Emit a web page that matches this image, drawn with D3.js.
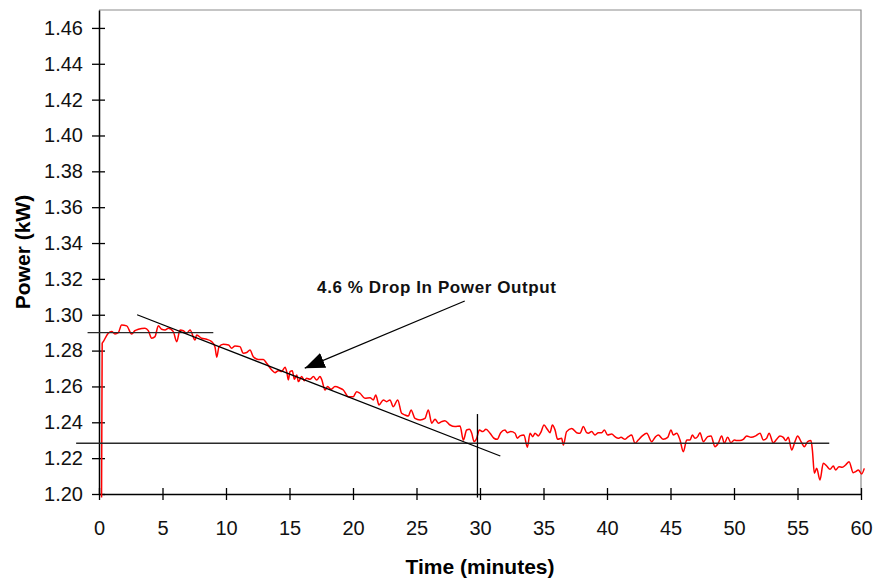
<!DOCTYPE html>
<html lang="en">
<head>
    <meta charset="UTF-8">
    <title>Power vs Time</title>
    <script src="https://d3js.org/d3.v7.min.js"></script>
    <style>
        body { margin: 0; background: #fff; }
        text { font-family: "Liberation Sans", Arial, sans-serif; }
    </style>
</head>
<body>
<script>
    // measured power trace (minutes, kW)
    var timeMin = [0.2, 0.25, 0.34, 0.73, 1.0, 1.26, 1.52, 1.78, 2.18, 2.57, 2.83, 3.1, 3.62, 3.88, 4.15, 4.41,
        4.67, 4.93, 5.2, 5.46, 5.85, 6.12, 6.38, 6.64, 6.9, 7.17, 7.56, 7.69, 8.08, 8.48, 8.87, 9.13, 9.27,
        9.45, 9.79, 10.2, 10.45, 10.71, 11.1, 11.36, 11.63, 11.89, 12.15, 12.54, 12.94,
        13.2, 13.6, 13.86, 14.12, 14.38, 14.65, 14.78, 14.91, 15.04, 15.22, 15.38, 15.57, 15.7, 15.96, 16.17,
        16.35, 16.61, 16.88, 17.14, 17.4, 17.53, 17.8, 18.0, 18.27, 18.58, 18.98, 19.24, 19.63, 20.02, 20.29,
        20.55, 20.94, 21.34, 21.6, 21.79, 22.05, 22.39, 22.65, 22.91, 23.17, 23.52, 23.83, 24.09, 24.36, 24.57,
        24.88, 25.28, 25.67, 25.93, 26.2, 26.46, 26.72, 26.98, 27.24, 27.64, 28.03, 28.43, 28.69, 28.95, 29.16,
        29.35, 29.53, 29.74, 29.95, 30.21, 30.47, 30.79, 31.1, 31.36, 31.63, 31.97, 32.15, 32.42, 32.76, 32.94,
        33.15, 33.46, 33.73, 33.94, 34.15, 34.33, 34.59, 34.78, 35.04, 35.3, 35.51, 35.7, 35.91, 36.11, 36.43,
        36.56, 36.82, 37.22, 37.61, 37.87, 38.14, 38.4, 38.53, 38.79, 39.06, 39.32, 39.58, 39.79, 40.05, 40.37,
        40.63, 40.89, 41.1, 41.42, 41.68, 41.94, 42.2, 42.46, 42.78, 43.13, 43.52, 43.83, 44.04, 44.43, 44.78,
        45.04, 45.22, 45.49, 45.75, 46.01, 46.28, 46.54, 46.72, 46.93, 47.14, 47.32, 47.58, 47.93, 48.19, 48.5,
        48.76, 49.03, 49.24, 49.5, 49.76, 50.02, 50.2, 50.47, 50.73, 51.0, 51.34, 51.71, 52.05, 52.31, 52.57,
        52.76, 53.09, 53.36, 53.62, 53.88, 54.07, 54.28, 54.54, 54.8, 55.01, 55.28, 55.54, 55.8, 56.06, 56.17,
        56.33, 56.51, 56.77, 57.03, 57.3, 57.56, 57.82, 58.0, 58.27, 58.53, 58.79, 59.06, 59.39, 59.58, 59.79,
        60.05, 60.26];

    var powerKW = [1.198, 1.284, 1.2850, 1.2897, 1.2906, 1.2893, 1.2900, 1.2943, 1.2938, 1.2893, 1.2911, 1.2919,
        1.2925, 1.2911, 1.2869, 1.2878, 1.2938, 1.2919, 1.2915, 1.2925, 1.2906, 1.2850, 1.2915, 1.2911, 1.2897,
        1.2915, 1.2859, 1.2887, 1.2869, 1.2863, 1.2850, 1.2822, 1.2763, 1.2822, 1.2835, 1.2831, 1.2813, 1.2826,
        1.2822, 1.2785, 1.2789, 1.2804, 1.2766, 1.2751, 1.2751,
        1.2729, 1.2692, 1.2677, 1.2688, 1.2683, 1.2707, 1.2683, 1.2636, 1.2683, 1.2688, 1.2640, 1.2664, 1.2627,
        1.2655, 1.2632, 1.2646, 1.2640, 1.2655, 1.2636, 1.2655, 1.2640, 1.2580, 1.2599, 1.2584, 1.2599, 1.2590,
        1.2580, 1.2543, 1.2543, 1.2571, 1.2562, 1.2534, 1.2537, 1.2525, 1.2552, 1.2497, 1.2525, 1.2515, 1.2525,
        1.2487, 1.2525, 1.2450, 1.2441, 1.2435, 1.2469, 1.2422, 1.2413, 1.2422, 1.2469, 1.2395, 1.2417, 1.2395,
        1.2404, 1.2409, 1.2385, 1.2376, 1.2379, 1.2301, 1.2357, 1.2361, 1.2339, 1.2292, 1.2311, 1.2357, 1.2348,
        1.2361, 1.2339, 1.2311, 1.2305, 1.2342, 1.2357, 1.2342, 1.2348, 1.2339, 1.2311, 1.2324, 1.2329, 1.2261,
        1.2339, 1.2320, 1.2339, 1.2324, 1.2342, 1.2385, 1.2361, 1.2342, 1.2385, 1.2357, 1.2305, 1.2311, 1.2273,
        1.2348, 1.2366, 1.2342, 1.2339, 1.2376, 1.2342, 1.2339, 1.2348, 1.2329, 1.2342, 1.2342, 1.2357, 1.2329,
        1.2335, 1.2320, 1.2311, 1.2316, 1.2305, 1.2320, 1.2329, 1.2283, 1.2301, 1.2324, 1.2339, 1.2292, 1.2320,
        1.2329, 1.2305, 1.2316, 1.2357, 1.2329, 1.2339, 1.2301, 1.2236, 1.2301, 1.2301, 1.2329, 1.2311, 1.2320,
        1.2342, 1.2292, 1.2320, 1.2324, 1.2264, 1.2283, 1.2324, 1.2283, 1.2316, 1.2286, 1.2301, 1.2298, 1.2298,
        1.2305, 1.2324, 1.2316, 1.2324, 1.2339, 1.2301, 1.2311, 1.2339, 1.2286, 1.2305, 1.2324, 1.2316, 1.2298,
        1.2316, 1.2246, 1.2292, 1.2324, 1.2292, 1.2264, 1.2292, 1.2298, 1.2246, 1.2116, 1.2143, 1.2078, 1.2171,
        1.2156, 1.2138, 1.2156, 1.2134, 1.2152, 1.2149, 1.2162, 1.2180, 1.2119, 1.2125, 1.2134, 1.2112, 1.2143];

    var xTicks = [0, 5, 10, 15, 20, 25, 30, 35, 40, 45, 50, 55, 60];
    var yTicks = [1.20, 1.22, 1.24, 1.26, 1.28, 1.30, 1.32, 1.34, 1.36, 1.38, 1.40, 1.42, 1.44, 1.46];

    // annotation lines drawn over the trace (minutes, kW)
    var startLevel = [[-0.9, 1.29], [9.0, 1.29]];
    var endLevel = [[-1.8, 1.2283], [57.5, 1.2283]];
    var trendLine = [[3.0, 1.300], [31.6, 1.2212]];
    var markerLine = [[29.8, 1.2446], [29.8, 1.198]];
    var arrowFrom = [28.8, 1.3077];
    var arrowTo = [16.2, 1.2702];
    var noteText = "4.6 % Drop In Power Output";
    var notePos = [26.6, 1.3122];

    var w = 885;
    var h = 579;
    var margin = { top: 10, right: 24, bottom: 85, left: 99 };

    var svg = d3.select("body")
                .append("svg")
                .attr("width", w)
                .attr("height", h);

    var xScale = d3.scaleLinear()
                   .domain([0, 60])
                   .range([margin.left, w - margin.right]);

    var yScale = d3.scaleLinear()
                   .domain([1.20, 1.47])
                   .range([h - margin.bottom, margin.top]);

    // top and right frame
    svg.append("path")
       .attr("d", "M" + xScale(0) + "," + yScale(1.47) + "H" + xScale(60) + "V" + yScale(1.20))
       .attr("fill", "none")
       .attr("stroke", "#8c8c8c")
       .attr("stroke-width", 1.2);

    // axes with ticks crossing the line
    var yAxis = d3.axisLeft(yScale)
                  .tickValues(yTicks)
                  .tickFormat(d3.format(".2f"))
                  .tickSizeInner(7)
                  .tickSizeOuter(0)
                  .tickPadding(9);

    var gy = svg.append("g")
                .attr("transform", "translate(" + xScale(0) + ",0)")
                .call(yAxis);

    gy.selectAll(".tick line").attr("x2", 6).attr("x1", -7).attr("stroke-width", 1.3);

    var xAxis = d3.axisBottom(xScale)
                  .tickValues(xTicks)
                  .tickSizeInner(6)
                  .tickSizeOuter(0)
                  .tickPadding(21);

    var gx = svg.append("g")
                .attr("transform", "translate(0," + yScale(1.20) + ")")
                .call(xAxis);

    gx.selectAll(".tick line").attr("y1", -6).attr("y2", 6).attr("stroke-width", 1.3);

    svg.selectAll(".domain").attr("stroke", "#000").attr("stroke-width", 1.5);
    svg.selectAll(".tick text")
       .attr("font-size", 20)
       .attr("font-family", "Liberation Sans, Arial, sans-serif")
       .attr("fill", "#111");

    // axis titles
    svg.append("text")
       .attr("x", xScale(30))
       .attr("y", 574)
       .attr("text-anchor", "middle")
       .attr("font-size", 21)
       .attr("font-weight", "bold")
       .text("Time (minutes)");

    svg.append("text")
       .attr("transform", "translate(30," + yScale(1.335) + ") rotate(-90)")
       .attr("text-anchor", "middle")
       .attr("font-size", 21)
       .attr("font-weight", "bold")
       .text("Power (kW)");

    // power trace
    var points = timeMin.map(function(t, i) { return [t, powerKW[i]]; });

    var line = d3.line()
                 .x(function(d) { return xScale(d[0]); })
                 .y(function(d) { return yScale(d[1]); })
                 .curve(d3.curveMonotoneX);

    svg.append("path")
       .datum(points)
       .attr("d", line)
       .attr("fill", "none")
       .attr("stroke", "#ff0000")
       .attr("stroke-width", 1.5);

    // reference lines
    var straight = d3.line()
                     .x(function(d) { return xScale(d[0]); })
                     .y(function(d) { return yScale(d[1]); });

    [startLevel, endLevel, trendLine, markerLine].forEach(function(seg, i) {
        svg.append("path")
           .attr("d", straight(seg))
           .attr("fill", "none")
           .attr("stroke", i < 2 ? "#2a2a2a" : "#000")
           .attr("stroke-width", 1.3);
    });

    // arrow pointing at the slope
    svg.append("defs").append("marker")
       .attr("id", "head")
       .attr("viewBox", "0 0 20 16")
       .attr("refX", 20)
       .attr("refY", 8)
       .attr("markerWidth", 20)
       .attr("markerHeight", 16)
       .attr("markerUnits", "userSpaceOnUse")
       .attr("orient", "auto")
       .append("path")
       .attr("d", "M0,0L20,8L0,16Z")
       .attr("fill", "#000");

    svg.append("line")
       .attr("x1", xScale(arrowFrom[0]))
       .attr("y1", yScale(arrowFrom[1]))
       .attr("x2", xScale(arrowTo[0]))
       .attr("y2", yScale(arrowTo[1]))
       .attr("stroke", "#000")
       .attr("stroke-width", 1.2)
       .attr("marker-end", "url(#head)");

    svg.append("text")
       .attr("x", xScale(notePos[0]))
       .attr("y", yScale(notePos[1]))
       .attr("text-anchor", "middle")
       .attr("font-size", 17)
       .attr("font-weight", "900")
       .attr("letter-spacing", 0.6)
       .attr("font-family", "Lato, sans-serif")
       .attr("fill", "#111")
       .text(noteText);
</script>
</body>
</html>
